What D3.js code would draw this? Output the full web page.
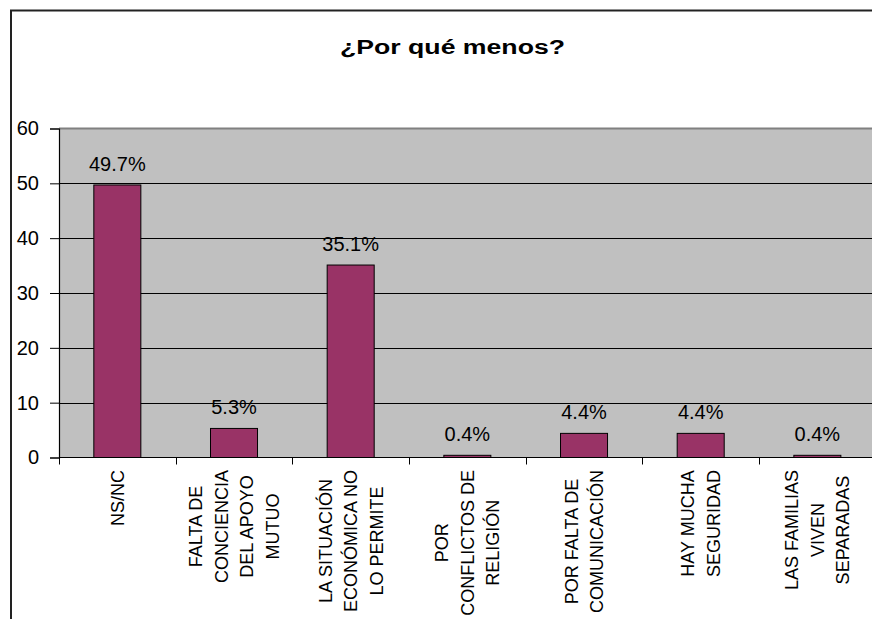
<!DOCTYPE html>
<html>
<head>
<meta charset="utf-8">
<script src="https://cdn.jsdelivr.net/npm/d3@7"></script>
<style>
  html, body { margin: 0; padding: 0; background: #fff; }
  svg { display: block; }
  text { font-family: "Liberation Sans", Arial, Helvetica, sans-serif; fill: #000; }
</style>
</head>
<body>
<svg id="chart" width="872" height="619"></svg>
<script>
// Response categories (line breaks mark how each label wraps)
const categories = [
  "NS/NC",
  "FALTA DE\nCONCIENCIA\nDEL APOYO\nMUTUO",
  "LA SITUACIÓN\nECONÓMICA NO\nLO PERMITE",
  "POR\nCONFLICTOS DE\nRELIGIÓN",
  "POR FALTA DE\nCOMUNICACIÓN",
  "HAY MUCHA\nSEGURIDAD",
  "LAS FAMILIAS\nVIVEN\nSEPARADAS"
];
// Percentage of answers per category
const values = [49.7, 5.3, 35.1, 0.4, 4.4, 4.4, 0.4];
// Value axis ticks
const yTicks = [0, 10, 20, 30, 40, 50, 60];
const chartTitle = "¿Por qué menos?";

const svg = d3.select("#chart");

const plot = { left: 59, top: 128.5, right: 875.7, bottom: 457.5 };

const x = d3.scaleBand()
  .domain(categories)
  .range([plot.left, plot.right])
  .padding(0);

const y = d3.scaleLinear()
  .domain([0, 60])
  .range([plot.bottom, plot.top]);

// Outer chart frame (right and bottom edges fall outside the view)
svg.append("rect")
  .attr("x", 11).attr("y", 10.5)
  .attr("width", 1000).attr("height", 1000)
  .attr("fill", "#fff")
  .attr("stroke", "#222")
  .attr("stroke-width", 2);

// Title
svg.append("text")
  .attr("x", 452.5)
  .attr("y", 54)
  .attr("text-anchor", "middle")
  .attr("font-size", 20)
  .attr("font-weight", "bold")
  .attr("textLength", 225)
  .attr("lengthAdjust", "spacingAndGlyphs")
  .text(chartTitle);

// Plot background
svg.append("rect")
  .attr("x", plot.left).attr("y", plot.top)
  .attr("width", plot.right - plot.left)
  .attr("height", plot.bottom - plot.top)
  .attr("fill", "#c0c0c0");

// Horizontal gridlines
svg.append("g")
  .selectAll("line")
  .data(yTicks.filter(t => t > 0 && t < 60))
  .join("line")
  .attr("x1", plot.left).attr("x2", plot.right)
  .attr("y1", d => Math.round(y(d)) + 0.5)
  .attr("y2", d => Math.round(y(d)) + 0.5)
  .attr("stroke", "#000")
  .attr("stroke-width", 1);

// Top edge of plot area
svg.append("line")
  .attr("x1", plot.left).attr("x2", plot.right)
  .attr("y1", y(60)).attr("y2", y(60))
  .attr("stroke", "#808080")
  .attr("stroke-width", 2);

// Bars
const barFrac = 0.403;
svg.append("g")
  .selectAll("rect")
  .data(values)
  .join("rect")
  .attr("x", (d, i) => x(categories[i]) + x.bandwidth() * (1 - barFrac) / 2)
  .attr("y", d => y(d))
  .attr("width", x.bandwidth() * barFrac)
  .attr("height", d => y(0) - y(d))
  .attr("fill", "#993366")
  .attr("stroke", "#000")
  .attr("stroke-width", 1);

// Value labels
svg.append("g")
  .selectAll("text")
  .data(values)
  .join("text")
  .attr("x", (d, i) => x(categories[i]) + x.bandwidth() / 2)
  .attr("y", d => y(d) - 14)
  .attr("text-anchor", "middle")
  .attr("font-size", 20)
  .text(d => d.toFixed(1) + "%");

// Y axis
const yAxis = d3.axisLeft(y)
  .tickValues(yTicks)
  .tickSize(9)
  .tickPadding(11)
  .tickFormat(d3.format("d"));

const gy = svg.append("g")
  .attr("transform", `translate(${plot.left},0)`)
  .call(yAxis);
gy.select(".domain").attr("stroke", "#000").attr("stroke-width", 1.2);
gy.selectAll(".tick line").attr("stroke", "#000");
gy.selectAll(".tick text")
  .attr("font-size", 20)
  .attr("font-family", "\"Liberation Sans\", Arial, sans-serif")
  .attr("fill", "#000");

// X axis baseline and category boundary ticks
const boundaries = categories.map(c => x(c)).concat([plot.right]);
svg.append("line")
  .attr("x1", plot.left).attr("x2", plot.right)
  .attr("y1", plot.bottom).attr("y2", plot.bottom)
  .attr("stroke", "#000")
  .attr("stroke-width", 1.2);
svg.append("g")
  .selectAll("line")
  .data(boundaries)
  .join("line")
  .attr("x1", d => Math.round(d) + 0.5)
  .attr("x2", d => Math.round(d) + 0.5)
  .attr("y1", plot.bottom)
  .attr("y2", plot.bottom + 7)
  .attr("stroke", "#000");

// Rotated, wrapped category labels
const lineH = 25.5;
const labelTop = 470;
const labelG = svg.append("g");
categories.forEach(cat => {
  const lines = cat.split("\n");
  const cx = x(cat) + x.bandwidth() / 2;
  const g = labelG.append("g")
    .attr("transform", `translate(${cx},${labelTop}) rotate(-90)`);
  const texts = g.selectAll("text")
    .data(lines)
    .join("text")
    .attr("font-size", 18)
    .attr("text-anchor", "middle")
    .attr("y", (d, i) => (i - (lines.length - 1) / 2) * lineH + 6.5)
    .text(d => d);
  let maxW = 0;
  texts.each(function () { maxW = Math.max(maxW, this.getComputedTextLength()); });
  texts.attr("x", -maxW / 2);
});
</script>
</body>
</html>
